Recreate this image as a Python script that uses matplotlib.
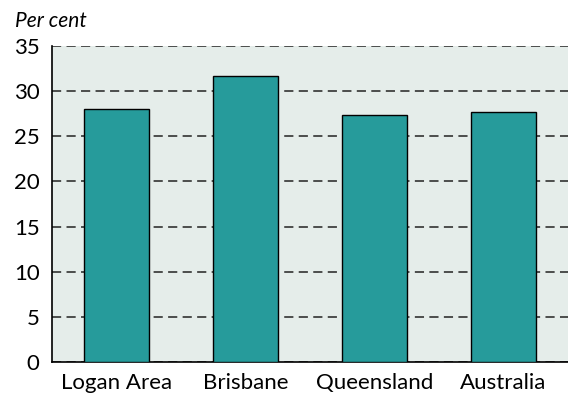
import matplotlib
matplotlib.use('Agg')
import matplotlib.pyplot as plt

# Data
regions = ["Logan Area", "Brisbane", "Queensland", "Australia"]
share = [28.0, 31.7, 27.4, 27.7]
y_ticks = [0, 5, 10, 15, 20, 25, 30, 35]

plt.rcParams['font.family'] = ['Lato', 'DejaVu Sans']

fig = plt.figure(figsize=(5.68, 4.0), dpi=100)
ax = fig.add_axes([52 / 568, 38 / 400, 516 / 568, 316 / 400])
ax.set_facecolor("#e5edea")

ax.bar(range(len(regions)), share, width=0.5, color="#269b9b",
       edgecolor="black", linewidth=1.0, zorder=3)

ax.set_xlim(-0.5, len(regions) - 0.5)
ax.set_ylim(0, 35)
ax.set_yticks(y_ticks)
ax.set_xticks(range(len(regions)))
ax.set_xticklabels(regions)
ax.tick_params(axis='both', length=0, labelsize=16, colors="black")
ax.tick_params(axis='y', pad=9)
ax.tick_params(axis='x', pad=8)

ax.yaxis.grid(True, linestyle=(0, (6, 3.5)), color="#222222", linewidth=1.1, zorder=1)
ax.set_axisbelow(True)

for side in ["top", "right"]:
    ax.spines[side].set_visible(False)
ax.spines["left"].set_linewidth(1.2)
ax.spines["bottom"].set_linewidth(1.2)

fig.text(15 / 568, 1 - 27 / 400, "Per cent", fontsize=15, style="italic")

fig.savefig("out.png", dpi=100)
